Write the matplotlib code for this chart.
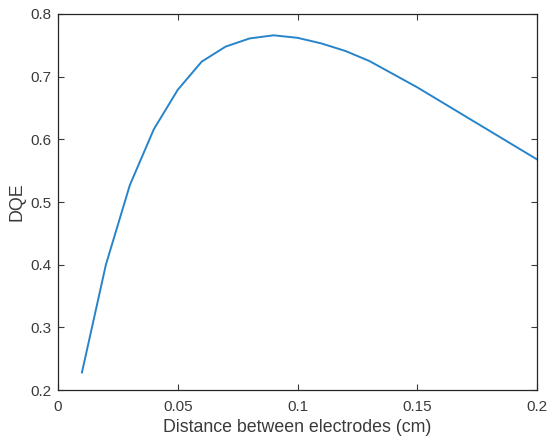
import matplotlib
matplotlib.use("Agg")
import matplotlib.pyplot as plt

# Electrode spacing (cm) and detective quantum efficiency
distance_cm = [0.01, 0.02, 0.03, 0.04, 0.05, 0.06, 0.07, 0.08, 0.09, 0.10,
               0.11, 0.12, 0.13, 0.14, 0.15, 0.16, 0.17, 0.18, 0.19, 0.20]
dqe = [0.228, 0.400, 0.527, 0.616, 0.679, 0.724, 0.748, 0.761, 0.766, 0.762,
       0.753, 0.741, 0.725, 0.704, 0.683, 0.660, 0.637, 0.614, 0.591, 0.568]

x_ticks = [0, 0.05, 0.1, 0.15, 0.2]
x_ticklabels = ["0", "0.05", "0.1", "0.15", "0.2"]
y_ticks = [0.2, 0.3, 0.4, 0.5, 0.6, 0.7, 0.8]
y_ticklabels = ["0.2", "0.3", "0.4", "0.5", "0.6", "0.7", "0.8"]

plt.rcParams["font.family"] = ["Liberation Sans", "DejaVu Sans"]
text_color = "#3a3a3a"

fig = plt.figure(figsize=(5.49, 4.44), dpi=100)
ax = fig.add_axes([58 / 549, 1 - 390 / 444, (537 - 58) / 549, (390 - 14) / 444])

ax.plot(distance_cm, dqe, color="#2784cb", linewidth=1.4)

ax.set_xlim(0, 0.2)
ax.set_ylim(0.2, 0.8)
ax.set_xticks(x_ticks)
ax.set_xticklabels(x_ticklabels)
ax.set_yticks(y_ticks)
ax.set_yticklabels(y_ticklabels)

ax.tick_params(direction="in", length=4, width=0.8, top=True, right=True,
               labelsize=11, colors=text_color, pad=5)
ax.tick_params(axis="x", pad=7)
for side in ax.spines.values():
    side.set_color("#262626")
    side.set_linewidth(0.9)

ax.set_xlabel("Distance between electrodes (cm)", fontsize=12.8,
              color=text_color, labelpad=4)
ax.set_ylabel("DQE", fontsize=12.8, color=text_color, labelpad=3)

fig.savefig("out.png", dpi=100)
